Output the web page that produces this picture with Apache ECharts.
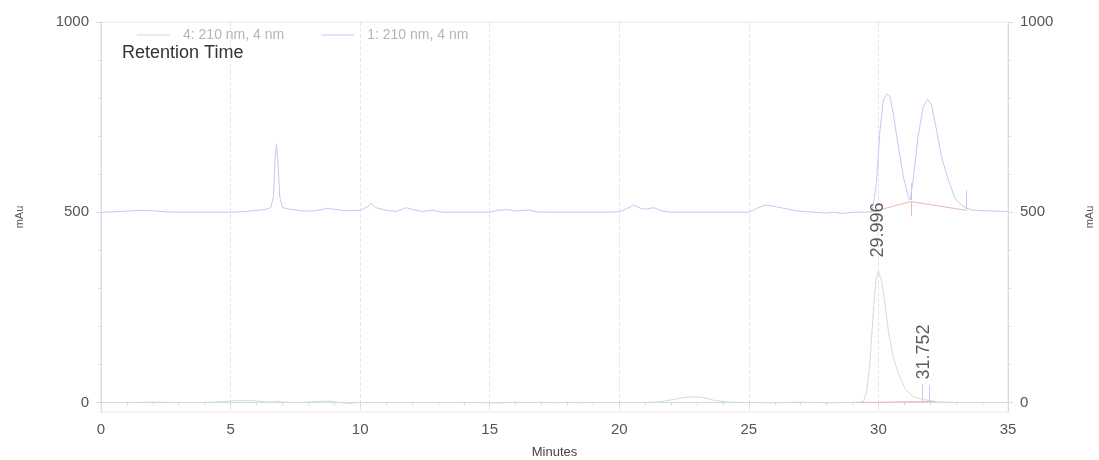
<!DOCTYPE html>
<html>
<head>
<meta charset="utf-8">
<script src="https://cdn.jsdelivr.net/npm/echarts@6/dist/echarts.min.js"></script>
<style>
  html, body { margin: 0; padding: 0; background: #ffffff; }
  #chart { width: 1099px; height: 460px; }
</style>
</head>
<body>
<div id="chart"></div>
<script>
// Chromatogram: two detector channels at 210 nm, channel 1 stacked at +500 mAu.

const yMajorTicks = [0, 500, 1000];
const yMinorTicks = [100, 200, 300, 400, 600, 700, 800, 900];

// Channel 4 (210 nm, 4 nm) — minutes / mAu
const ch4Time = [0, 1, 2, 3, 4, 4.6, 5, 5.5, 6.0, 6.3, 6.6, 6.8, 7.0, 7.5, 8.0, 8.5, 8.8, 9.1, 9.6, 9.9,
  10.5, 12, 14, 15.5, 16, 16.5, 17, 17.5, 18, 18.5, 19, 20, 21, 21.6, 22.1, 22.5, 22.9, 23.3, 23.7, 24.2,
  25, 26, 27, 28, 29, 29.42, 29.55, 29.67, 29.8, 29.9, 29.996, 30.12, 30.25, 30.38, 30.57, 30.77, 31.02,
  31.34, 31.73, 32.2, 33, 34, 35];
const ch4Value = [0, 0, 1, 0, 0, 2, 4, 5, 4, 2, 1, 4, 1, 0, 1, 3, 4, 1, -3, 0,
  0, 0, 0, -1, 1, -1, 1, -1, 1, -1, 0, 0, 0, 2, 8, 13, 15, 12, 5, 1,
  0, -1, 1, -1, 0, 2, 30, 104, 235, 322, 344, 322, 261, 190, 120, 77, 37,
  15, 8, 2, 0, 0, 0];

// Channel 1 (210 nm, 4 nm), offset trace
const ch1Time = [0, 0.5, 1.0, 1.5, 2.0, 2.5, 3, 4, 5, 5.6, 6.0, 6.3, 6.55, 6.65, 6.72, 6.77, 6.82, 6.9, 7.0,
  7.3, 7.8, 8.3, 8.7, 9.0, 9.4, 10.0, 10.3, 10.42, 10.6, 11.0, 11.4, 11.77, 12.1, 12.4, 12.8, 13.2, 14, 15,
  15.3, 15.7, 16.0, 16.5, 16.8, 17.5, 18.5, 19.5, 20.0, 20.3, 20.56, 20.8, 21.0, 21.33, 21.6, 22, 23, 24,
  25, 25.3, 25.63, 26.0, 26.3, 26.6, 26.9, 27.5, 28, 28.3, 28.6, 29, 29.5, 29.75, 29.85, 29.93, 30.06,
  30.19, 30.32, 30.45, 30.57, 30.77, 30.96, 31.15, 31.22, 31.34, 31.53, 31.73, 31.9, 32.05, 32.24, 32.43,
  32.7, 32.95, 33.2, 33.4, 33.6, 34, 34.5, 35];
const ch1Value = [500, 501, 503, 505, 504, 501, 500, 500, 500, 502, 505, 507, 512, 540, 640, 680, 640, 540, 512,
  508, 503, 504, 510, 508, 504, 505, 515, 524, 512, 505, 502, 512, 506, 502, 505, 500, 500, 500,
  505, 507, 503, 506, 501, 500, 500, 500, 501, 510, 519, 511, 508, 512, 504, 500, 500, 500,
  500, 510, 519, 515, 511, 507, 503, 500, 498, 500, 497, 500, 500, 502, 540, 585, 716,
  795, 811, 804, 761, 672, 594, 541, 532, 585, 699, 777, 797, 782, 716, 646,
  585, 537, 519, 511, 506, 504, 503, 502];

// Integration baselines
const ch4BaseTime = [29.3, 32.2];
const ch4BaseValue = [0, 3];
const ch1BaseTime = [29.7, 31.25, 33.4];
const ch1BaseValue = [500, 528, 505];

// Peak start/end markers: time, low, high
const ch4MarkTime = [31.71, 31.96];
const ch4MarkLow = [0, 0];
const ch4MarkHigh = [48, 45];
const ch1MarkTime = [31.25, 33.4];
const ch1MarkLow = [532, 505];
const ch1MarkHigh = [577, 558];
const ch1DropTime = [31.25];
const ch1DropLow = [489];
const ch1DropHigh = [528];

// Retention time labels
const peakTimes = [29.996, 31.752];
const peakHeights = [344, 8];
const peakLabelGap = [14, 20];

const GREEN = '#c6e6c6';
const BLUE = '#c8c8f4';
const RED = '#f2b4b4';
const AXIS = '#d8d8e6';
const TEXT = '#555555';
const FONT = 'Liberation Sans, Arial, sans-serif';

const zip = (a, b) => a.map((t, i) => [t, b[i]]);
const vLines = (times, lows, highs) =>
  times.map((t, i) => [{ coord: [t, lows[i]] }, { coord: [t, highs[i]] }]);

function markers(times, lows, highs, color) {
  return {
    silent: true,
    symbol: ['none', 'none'],
    label: { show: false },
    lineStyle: { color: color, width: 1, type: 'solid' },
    data: vLines(times, lows, highs)
  };
}

function yAxisDef(position, showName) {
  return {
    type: 'value',
    position: position,
    min: -25,
    max: 1000,
    axisLine: { show: true, lineStyle: { color: AXIS, width: 1 } },
    axisTick: { show: true, customValues: yMajorTicks, length: 5, lineStyle: { color: AXIS } },
    axisLabel: {
      customValues: yMajorTicks,
      formatter: v => String(v),
      color: TEXT, fontSize: 15, fontFamily: FONT, margin: 12
    },
    splitLine: { show: false },
    name: showName ? 'mAu' : '',
    nameLocation: 'middle',
    nameGap: 76,
    nameTextStyle: { color: TEXT, fontSize: 11, fontFamily: FONT }
  };
}

function yMinorDef(position) {
  return {
    type: 'value',
    position: position,
    min: -25,
    max: 1000,
    axisLine: { show: false },
    axisTick: { show: true, customValues: yMinorTicks, length: 3, lineStyle: { color: AXIS } },
    axisLabel: { show: false },
    splitLine: { show: false }
  };
}

const chart = echarts.init(document.getElementById('chart'), null, { renderer: 'canvas' });

chart.setOption({
  animation: false,
  backgroundColor: '#ffffff',
  title: {
    text: 'Retention Time',
    left: 122,
    top: 44,
    padding: 0,
    textStyle: { fontSize: 18, fontWeight: 'normal', color: '#333333', fontFamily: FONT }
  },
  legend: {
    data: ['4: 210 nm, 4 nm', '1: 210 nm, 4 nm'],
    left: 137,
    top: 28,
    padding: 0,
    icon: 'rect',
    itemWidth: 33,
    itemHeight: 1,
    itemGap: 37,
    textStyle: { color: '#b5b5b5', fontSize: 14, fontFamily: FONT, padding: [0, 0, 0, 8] }
  },
  grid: {
    left: 101,
    right: 91,
    top: 22,
    bottom: 48,
    outerBoundsMode: 'none',
    show: true,
    borderColor: '#e4e4ee',
    borderWidth: 1
  },
  xAxis: {
    type: 'value',
    min: 0,
    max: 35,
    interval: 5,
    axisLine: { show: true, lineStyle: { color: AXIS, width: 1 } },
    axisTick: { show: true, length: 4, lineStyle: { color: AXIS } },
    minorTick: { show: true, splitNumber: 5, length: 3, lineStyle: { color: AXIS } },
    axisLabel: { color: TEXT, fontSize: 15, fontFamily: FONT, margin: 10 },
    splitLine: { show: true, lineStyle: { color: '#e6e6e6', type: 'dashed', width: 1 } },
    name: 'Minutes',
    nameLocation: 'middle',
    nameGap: 34,
    nameTextStyle: { color: '#444444', fontSize: 13, fontFamily: FONT }
  },
  yAxis: [yAxisDef('left', true), yAxisDef('right', true), yMinorDef('left'), yMinorDef('right')],
  series: [
    {
      name: '4: 210 nm, 4 nm',
      type: 'line',
      data: zip(ch4Time, ch4Value),
      symbol: 'none',
      lineStyle: { color: GREEN, width: 1 },
      itemStyle: { color: GREEN },
      z: 3,
      markLine: markers(ch4MarkTime, ch4MarkLow, ch4MarkHigh, BLUE)
    },
    {
      name: '1: 210 nm, 4 nm',
      type: 'line',
      data: zip(ch1Time, ch1Value),
      symbol: 'none',
      lineStyle: { color: BLUE, width: 1 },
      itemStyle: { color: BLUE },
      z: 3,
      markLine: markers(ch1MarkTime, ch1MarkLow, ch1MarkHigh, BLUE)
    },
    {
      name: 'ch4 baseline',
      type: 'line',
      data: zip(ch4BaseTime, ch4BaseValue),
      symbol: 'none',
      lineStyle: { color: RED, width: 1 },
      z: 4
    },
    {
      name: 'ch1 baseline',
      type: 'line',
      data: zip(ch1BaseTime, ch1BaseValue),
      symbol: 'none',
      lineStyle: { color: RED, width: 1 },
      z: 4,
      markLine: markers(ch1DropTime, ch1DropLow, ch1DropHigh, RED)
    },
    {
      name: 'retention labels',
      type: 'scatter',
      symbolSize: 0,
      z: 6,
      data: peakTimes.map((t, i) => ({
        value: [t, peakHeights[i]],
        label: { distance: peakLabelGap[i] }
      })),
      label: {
        show: true,
        position: 'top',
        rotate: 90,
        align: 'left',
        verticalAlign: 'middle',
        color: '#333333',
        fontSize: 18,
        fontFamily: FONT,
        formatter: p => p.value[0].toFixed(3)
      }
    }
  ]
});
</script>
</body>
</html>
